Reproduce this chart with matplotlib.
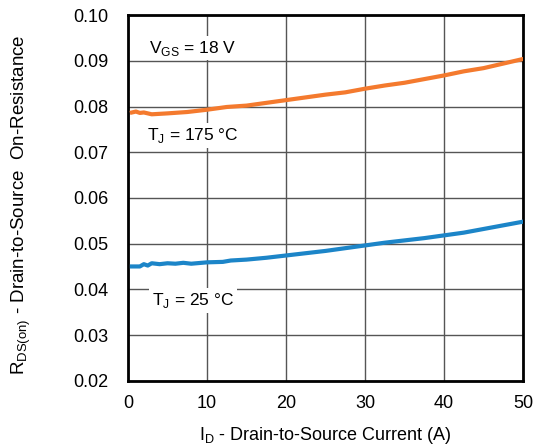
import numpy as np
import matplotlib.pyplot as plt

plt.rcParams['font.family'] = ['Liberation Sans', 'DejaVu Sans']
plt.rcParams['mathtext.fontset'] = 'custom'
plt.rcParams['mathtext.rm'] = 'Liberation Sans'

# Drain current (A)
id_175 = [0.5, 1, 1.5, 2, 3, 4, 5, 7.5, 10, 12.5, 15, 17.5, 20, 22.5, 25,
          27.5, 30, 32.5, 35, 37.5, 40, 42.5, 45, 47.5, 50]
rds_175 = [0.0787, 0.0789, 0.0786, 0.0787, 0.0783, 0.0784, 0.0785, 0.0788,
           0.0793, 0.0799, 0.0802, 0.0808, 0.0814, 0.0820, 0.0826, 0.0831,
           0.0839, 0.0846, 0.0852, 0.0860, 0.0868, 0.0877, 0.0884, 0.0894,
           0.0904]

id_25 = [0.5, 1.5, 2, 2.5, 3, 4, 5, 6, 7, 8, 10, 12, 13, 15, 17.5, 20,
         22.5, 25, 27.5, 30, 32.5, 35, 37.5, 40, 42.5, 45, 47.5, 50]
rds_25 = [0.0450, 0.0450, 0.0455, 0.0452, 0.0457, 0.0455, 0.0457, 0.0456,
          0.0458, 0.0456, 0.0459, 0.0460, 0.0463, 0.0465, 0.0469, 0.0474,
          0.0479, 0.0484, 0.0490, 0.0496, 0.0502, 0.0507, 0.0512, 0.0518,
          0.0524, 0.0532, 0.0540, 0.0548]

fig = plt.figure(figsize=(5.37, 4.45), dpi=100)
ax = fig.add_axes([0.2384, 0.1445, 0.7356, 0.8215])

ax.plot(id_175, rds_175, color='#F47A2E', lw=3, zorder=3)
ax.plot(id_25, rds_25, color='#1C85C8', lw=3, zorder=3)

ax.set_xlim(0, 50)
ax.set_ylim(0.02, 0.10)
ax.set_xticks(np.arange(0, 51, 10))
ax.set_yticks(np.arange(0.02, 0.1001, 0.01))
ax.set_yticklabels(['%.2f' % v for v in np.arange(0.02, 0.1001, 0.01)])
ax.grid(True, color='#555555', lw=1)
ax.set_axisbelow(True)
for s in ax.spines.values():
    s.set_linewidth(2)
ax.tick_params(length=0, labelsize=13)
ax.tick_params(axis='y', pad=14)
ax.tick_params(axis='x', pad=10)

box = dict(facecolor='white', edgecolor='none', pad=2)
ax.text(8.2, 0.0928, r'V$_{\mathregular{GS}}$ = 18 V', fontsize=12.5,
        ha='center', va='center', bbox=box, zorder=2)
ax.text(8.2, 0.0737, r'T$_{\mathregular{J}}$ = 175 °C', fontsize=12.5,
        ha='center', va='center', bbox=box, zorder=2)
ax.text(8.2, 0.0375, r'T$_{\mathregular{J}}$ = 25 °C', fontsize=12.5,
        ha='center', va='center', bbox=box, zorder=2)

ax.set_xlabel(r'I$_{\mathregular{D}}$ - Drain-to-Source Current (A)', fontsize=13)
ax.set_ylabel(r'R$_{\mathregular{DS(on)}}$ - Drain-to-Source  On-Resistance', fontsize=13.5)
ax.xaxis.set_label_coords(0.5, -0.12)
ax.yaxis.set_label_coords(-0.24, 0.48)

fig.savefig('out.png', dpi=100)
